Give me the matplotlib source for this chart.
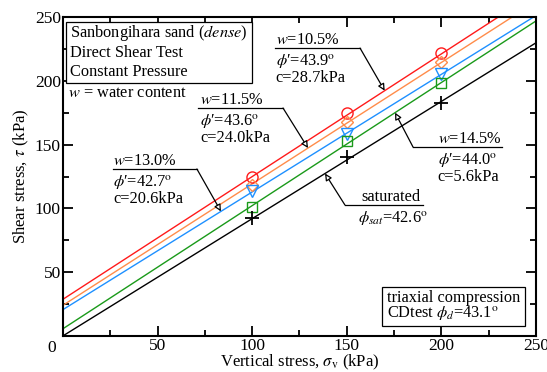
import matplotlib.pyplot as plt
from matplotlib.patches import Rectangle
import numpy as np

plt.rcParams['font.family'] = 'Liberation Serif'
plt.rcParams['mathtext.fontset'] = 'stix'

# direct shear results: friction angle and cohesion per water content
phi = [43.9, 43.6, 42.7, 44.0, 42.6]
coh = [28.7, 24.0, 20.6, 5.6, 0.0]
colors = ['#ff1a1a', '#ff8c4a', '#1e90ff', '#1a9a1a', 'black']
markers = ['o', 'D', 'v', 's', '+']
msizes = [8, 6.5, 8, 6.5, 10]

sigma = [100, 150, 200]
tau = [
    [124.6, 174.5, 221.5],
    [118.0, 167.5, 214.5],
    [113.5, 158.5, 205.5],
    [101.0, 153.0, 198.5],
    [92.5, 140.0, 182.5],
]

ticks = [0, 50, 100, 150, 200, 250]

fig = plt.figure(figsize=(5.47, 3.72), dpi=100)
ax = fig.add_axes([0.115, 0.097, 0.865, 0.857])

xs = np.array([0, 250])
for i in range(len(phi)):
    t = np.tan(np.radians(phi[i]))
    ax.plot(xs, coh[i] + xs * t, color=colors[i], lw=1.0, zorder=2)
    if markers[i] == '+':
        ax.plot(sigma, tau[i], ls='none', marker='+', ms=msizes[i], mew=1.3,
                color=colors[i], zorder=3)
    else:
        ax.plot(sigma, tau[i], ls='none', marker=markers[i], ms=msizes[i],
                mfc='none', mec=colors[i], mew=1.0, zorder=3)

ax.set_xlim(0, 250)
ax.set_ylim(0, 250)
# single shared "0" at the corner
ax.set_xticks(ticks, [''] + [str(v) for v in ticks[1:]])
ax.set_yticks(ticks, [''] + [str(v) for v in ticks[1:]])
ax.set_xticks(np.arange(0, 251, 25), minor=True)
ax.set_yticks(np.arange(0, 251, 25), minor=True)
ax.tick_params(which='both', direction='in', top=True, right=True,
               labelsize=12.5, width=1.3, pad=1.5)
ax.tick_params(which='major', length=7)
ax.tick_params(which='minor', length=4)
for s in ax.spines.values():
    s.set_linewidth(1.5)
ax.text(-3.5, -3, '0', fontsize=12.5, ha='right', va='top')

ax.set_xlabel(r'Vertical stress, $\sigma_\mathrm{v}$ (kPa)', fontsize=12, labelpad=-1)
ax.set_ylabel(r'Shear stress, $\tau$ (kPa)', fontsize=12, labelpad=3)

fs = 11.8


def leader(idx, x_tip, corner, x_end):
    # underline from x_end to the corner, then an arrow to the fitted line
    t = np.tan(np.radians(phi[idx]))
    y_tip = coh[idx] + x_tip * t
    ax.plot([corner[0], x_end], [corner[1], corner[1]], color='black', lw=0.9, zorder=4)
    ax.annotate('', xy=(x_tip, y_tip), xytext=corner,
                arrowprops=dict(arrowstyle='-|>', fc='white', ec='black',
                                lw=0.9, mutation_scale=10, shrinkA=0, shrinkB=0),
                zorder=4)


def block(x, y0, lines):
    # first line sits above the underline, the rest below it
    offs = [3.1, -13.3, -26.7]
    for s, dy in zip(lines, offs):
        ax.text(x, y0 + dy, s, fontsize=fs, va='baseline', ha='left', zorder=5)


deg = r'$^\mathrm{o}$'

leader(0, 170, (157, 225.7), 112)
block(112.5, 225.7, [r'$\it{w}$=10.5%', r'$\phi$′=43.9' + deg, 'c=28.7kPa'])

leader(1, 129.5, (116.3, 178.7), 71.4)
block(72.4, 178.7, [r'$\it{w}$=11.5%', r'$\phi$′=43.6' + deg, 'c=24.0kPa'])

leader(2, 83.5, (70.8, 130.9), 26.4)
block(26.6, 130.9, [r'$\it{w}$=13.0%', r'$\phi$′=42.7' + deg, 'c=20.6kPa'])

leader(3, 175.5, (185, 148.1), 232)
block(198, 148.1, [r'$\it{w}$=14.5%', r'$\phi$′=44.0' + deg, 'c=5.6kPa'])

leader(4, 138.5, (149, 102.7), 190)
ax.text(157.5, 105.8, 'saturated', fontsize=fs, va='baseline', zorder=5)
ax.text(156, 89.4, r'$\phi_{sat}$=42.6' + deg, fontsize=fs, va='baseline', zorder=5)

# description box, upper left
ax.add_patch(Rectangle((1.6, 198.3), 98.3, 47.7, fc='white', ec='black', lw=0.9, zorder=5))
for s, y in zip([r'Sanbongihara sand ($\it{dense}$)', 'Direct Shear Test', 'Constant Pressure'],
                [234.3, 218.7, 203.6]):
    ax.text(3.7, y, s, fontsize=fs, va='baseline', zorder=6)
ax.text(2.8, 187.3, r'$\it{w}$ = water content', fontsize=fs, va='baseline', zorder=6)

# triaxial reference box, lower right
ax.add_patch(Rectangle((168.6, 7.8), 75.6, 30.6, fc='white', ec='black', lw=0.9, zorder=5))
ax.text(171.0, 26.6, 'triaxial compression', fontsize=fs, va='baseline', zorder=6)
ax.text(171.0, 14.9, r'CDtest $\phi_d$=43.1' + deg, fontsize=fs, va='baseline', zorder=6)

fig.savefig('out.png', dpi=100)
